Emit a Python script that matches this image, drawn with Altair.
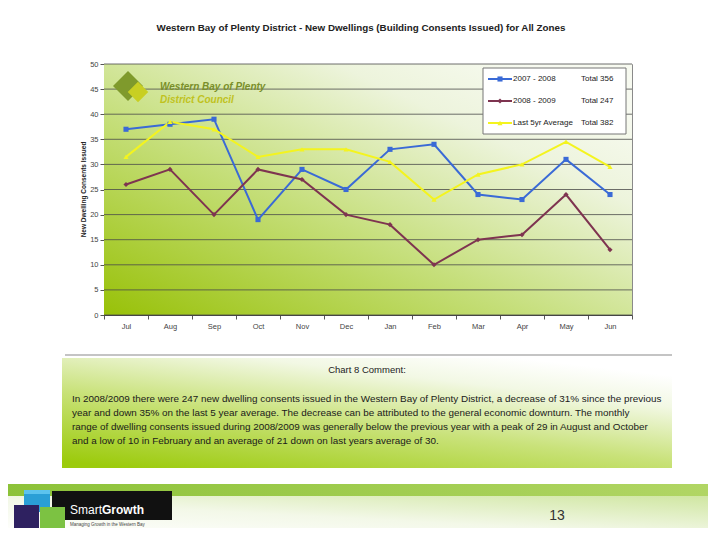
import altair as alt
import pandas as pd

# ---------------- data ----------------
months = ["Jul", "Aug", "Sep", "Oct", "Nov", "Dec", "Jan", "Feb", "Mar", "Apr", "May", "Jun"]
s_2007_2008 = [37, 38, 39, 19, 29, 25, 33, 34, 24, 23, 31, 24]
s_2008_2009 = [26, 29, 20, 29, 27, 20, 18, 10, 15, 16, 24, 13]
s_5yr_avg = [31.5, 38.5, 37, 31.5, 33, 33, 30.5, 23, 28, 30, 34.5, 29.5]
series_names = ["2007 - 2008", "2008 - 2009", "Last 5yr Average"]
series_totals = ["Total 356", "Total 247", "Total 382"]
series_colors = ["#3a6ad6", "#7e3450", "#f4f41e"]
series_shapes = ["square", "diamond", "triangle-up"]
y_ticks = list(range(0, 55, 5))

title_text = "Western Bay of Plenty District - New Dwellings (Building Consents Issued) for All Zones"
comment_title = "Chart 8 Comment:"
comment_lines = [
    "In 2008/2009 there were 247 new dwelling consents issued in the Western Bay of Plenty District, a decrease of 31% since the previous",
    "year and down 35% on the last 5 year average.  The decrease can be attributed to the general economic downturn.  The monthly",
    "range of dwelling consents issued during 2008/2009 was generally below the previous year with a peak of 29 in August and October",
    "and a low of 10 in February and an average of 21 down on last years average of 30.",
]
page_number = "13"

rows = []
for name, vals in zip(series_names, [s_2007_2008, s_2008_2009, s_5yr_avg]):
    for m, v in zip(months, vals):
        rows.append({"Month": m, "series": name, "value": v})
df = pd.DataFrame(rows)
grid_df = pd.DataFrame({"value": y_ticks})

one = pd.DataFrame({"k": [0]})
FONT = "Liberation Sans"
YTITLE = "New Dwelling Consents Issued"

W, H = 528, 251

x_enc = alt.X("Month:N", sort=months, title="Month",
              scale=alt.Scale(domain=months),
              axis=alt.Axis(labelAngle=0, tickBand="extent", labelFontSize=7.5,
                            labelColor="#444", labelFont=FONT, tickSize=4,
                            tickColor="#555", domainColor="#444", labelPadding=3,
                            titleFontSize=7, titleFont=FONT, titleFontWeight="bold",
                            titleColor="#222", titleY=276, titleBaseline="middle", grid=False))
y_scale = alt.Scale(domain=[0, 50], nice=False, zero=True)
y_axis = alt.Axis(values=y_ticks, labelFontSize=7.5, labelColor="#444",
                  labelFont=FONT, tickSize=4, tickColor="#555", labelOverlap=False,
                  labelBound=False, labelFlush=False,
                  domainColor="#444", labelPadding=2, grid=False,
                  titleFontSize=6.5, titleFont=FONT, titleFontWeight="bold",
                  titleColor="#222", titleX=-21, titleY=125, titleBaseline="middle")
y_enc = alt.Y("value:Q", title=YTITLE, scale=y_scale, axis=y_axis)

color_scale = alt.Scale(domain=series_names, range=series_colors)
shape_scale = alt.Scale(domain=series_names, range=series_shapes)

def grad(stops, x1=0, y1=1, x2=1, y2=0):
    return alt.LinearGradient(gradient="linear", x1=x1, y1=y1, x2=x2, y2=y2,
                              stops=[alt.GradientStop(offset=o, color=c) for o, c in stops])

def rect(x, x2, y, y2, **kw):
    return alt.Chart(one).mark_rect(**kw).encode(
        x=alt.value(x), x2=alt.value(x2), y=alt.value(y), y2=alt.value(y2))

def text(t, x, y, **kw):
    return alt.Chart(one).mark_text(text=t, font=FONT, **kw).encode(
        x=alt.value(x), y=alt.value(y))

# plot background gradient
plot_bg = rect(0, W, 0, H,
               fill=grad([(0, "#98c108"), (0.45, "#c6df7c"), (0.8, "#edf4dc"), (1, "#f7faf0")],
                         x1=0, y1=1, x2=0.9, y2=0.1))
grid = alt.Chart(grid_df).mark_rule(color="#4a4a4a", strokeWidth=0.8).encode(y=y_enc)

lines = alt.Chart(df).mark_line(strokeWidth=2).encode(
    x=x_enc, y=y_enc,
    color=alt.Color("series:N", scale=color_scale, legend=None),
)
points = alt.Chart(df).mark_point(filled=True, size=26, opacity=1).encode(
    x=x_enc, y=y_enc,
    color=alt.Color("series:N", scale=color_scale, legend=None),
    shape=alt.Shape("series:N", scale=shape_scale, legend=None),
)

# ---------------- decorations ----------------
top_line = rect(-39, 541, -63.5, -62, fill="#9a9a9a")
title = text(title_text, 257, -36, fontSize=9.8, fontWeight="bold", color="#222")

# comment box
comment_box = rect(-42, 568, 294, 404,
                   fill=grad([(0, "#9ccb0c"), (0.45, "#c9e27a"), (0.8, "#f2f8e4"), (1, "#ffffff")],
                             x1=0.1, y1=1, x2=0.75, y2=0))
comment_line = rect(-39, 568, 290.5, 291.5, fill="#8a8a8a")
comment_head = text(comment_title, 263, 306, fontSize=9.5, color="#222")
cl_df = pd.DataFrame({"line": comment_lines, "i": list(range(len(comment_lines)))})
comment_body = alt.Chart(cl_df).mark_text(font=FONT, fontSize=9.9, align="left",
                                          baseline="middle", color="#1a1a1a").encode(
    text="line:N",
    x=alt.value(-32),
    y=alt.Y("yy:Q", scale=None),
).transform_calculate(yy="335 + 14 * datum.i")

# footer
footer_band = rect(-100, 620, 420, 432,
                   fill=grad([(0, "#8cc238"), (1, "#b2d665")], x1=0, y1=0, x2=1, y2=0))
footer_fade = rect(-100, 620, 432, 470,
                   fill=grad([(0, "#ffffff"), (0.45, "#f3f8e8"), (1, "#cfe6a0")], x1=0, y1=1, x2=1, y2=0))
page_num = text(page_number, 453, 452, fontSize=14, color="#333")

# SmartGrowth logo
logo_black = rect(-52, 68, 427, 456, fill="#111111")
cube_blue = rect(-80, -54, 426, 448, fill="#2a9fd6")
cube_blue_top = rect(-80, -54, 426, 430, fill="#5cc3ee")
cube_purple = rect(-90, -65, 441, 464, fill="#2e2160")
cube_green = rect(-64, -39, 443, 464, fill="#7cc242")
sg_smart = text("Smart", -34, 446, fontSize=12, color="#ffffff", align="left")
sg_growth = text("Growth", -2, 446, fontSize=12, fontWeight="bold", color="#ffffff", align="left")
sg_tag = text("Managing Growth in the Western Bay", -34, 461, fontSize=4.5, color="#444", align="left")

# Western Bay of Plenty District Council logo in plot
wb_d1 = alt.Chart(one).mark_point(shape="diamond", filled=True, size=900, color="#7f9a2c", opacity=1).encode(
    x=alt.value(24), y=alt.value(22))
wb_d2 = alt.Chart(one).mark_point(shape="diamond", filled=True, size=420, color="#c8cf22", opacity=1).encode(
    x=alt.value(34), y=alt.value(28))
wb_t1 = text("Western Bay of Plenty", 56, 23, fontSize=10, fontWeight="bold", fontStyle="italic",
             color="#7a8f2a", align="left")
wb_t2 = text("District Council", 56, 36, fontSize=10, fontWeight="bold", fontStyle="italic",
             color="#c0c21e", align="left")

# manual legend
leg_box = rect(379, 522, 4, 70, fill="#ffffff", stroke="#777777", strokeWidth=1)
leg_df = pd.DataFrame({"series": series_names, "total": series_totals, "i": [0, 1, 2]})
leg_base = alt.Chart(leg_df).transform_calculate(ly="15 + 22 * datum.i")
leg_rule = leg_base.mark_rule(strokeWidth=2).encode(
    x=alt.value(384), x2=alt.value(408), y=alt.Y("ly:Q", scale=None),
    color=alt.Color("series:N", scale=color_scale, legend=None))
leg_pt = leg_base.mark_point(filled=True, size=26, opacity=1).encode(
    x=alt.value(396), y=alt.Y("ly:Q", scale=None),
    color=alt.Color("series:N", scale=color_scale, legend=None),
    shape=alt.Shape("series:N", scale=shape_scale, legend=None))
leg_lbl = leg_base.mark_text(font=FONT, fontSize=8, align="left", baseline="middle", color="#222").encode(
    x=alt.value(409), y=alt.Y("ly:Q", scale=None), text="series:N")
leg_tot = leg_base.mark_text(font=FONT, fontSize=8, align="left", baseline="middle", color="#222").encode(
    x=alt.value(477), y=alt.Y("ly:Q", scale=None), text="total:N")

chart = alt.layer(
    top_line, title, comment_box, comment_line, comment_head, comment_body,
    footer_band, footer_fade, page_num,
    logo_black, cube_blue, cube_blue_top, cube_purple, cube_green, sg_smart, sg_growth, sg_tag,
    plot_bg, grid,
    wb_d1, wb_d2, wb_t1, wb_t2,
    lines, points,
    leg_box, leg_rule, leg_pt, leg_lbl, leg_tot,
).properties(
    width=W, height=H,
    padding={"left": 96, "top": 56, "right": 76, "bottom": 213},
    autosize="none",
    background="#ffffff",
).configure_view(
    stroke="#8a8a8a", strokeWidth=1,
)

chart.save("out.html", embed_options={"renderer": "svg", "actions": False})
